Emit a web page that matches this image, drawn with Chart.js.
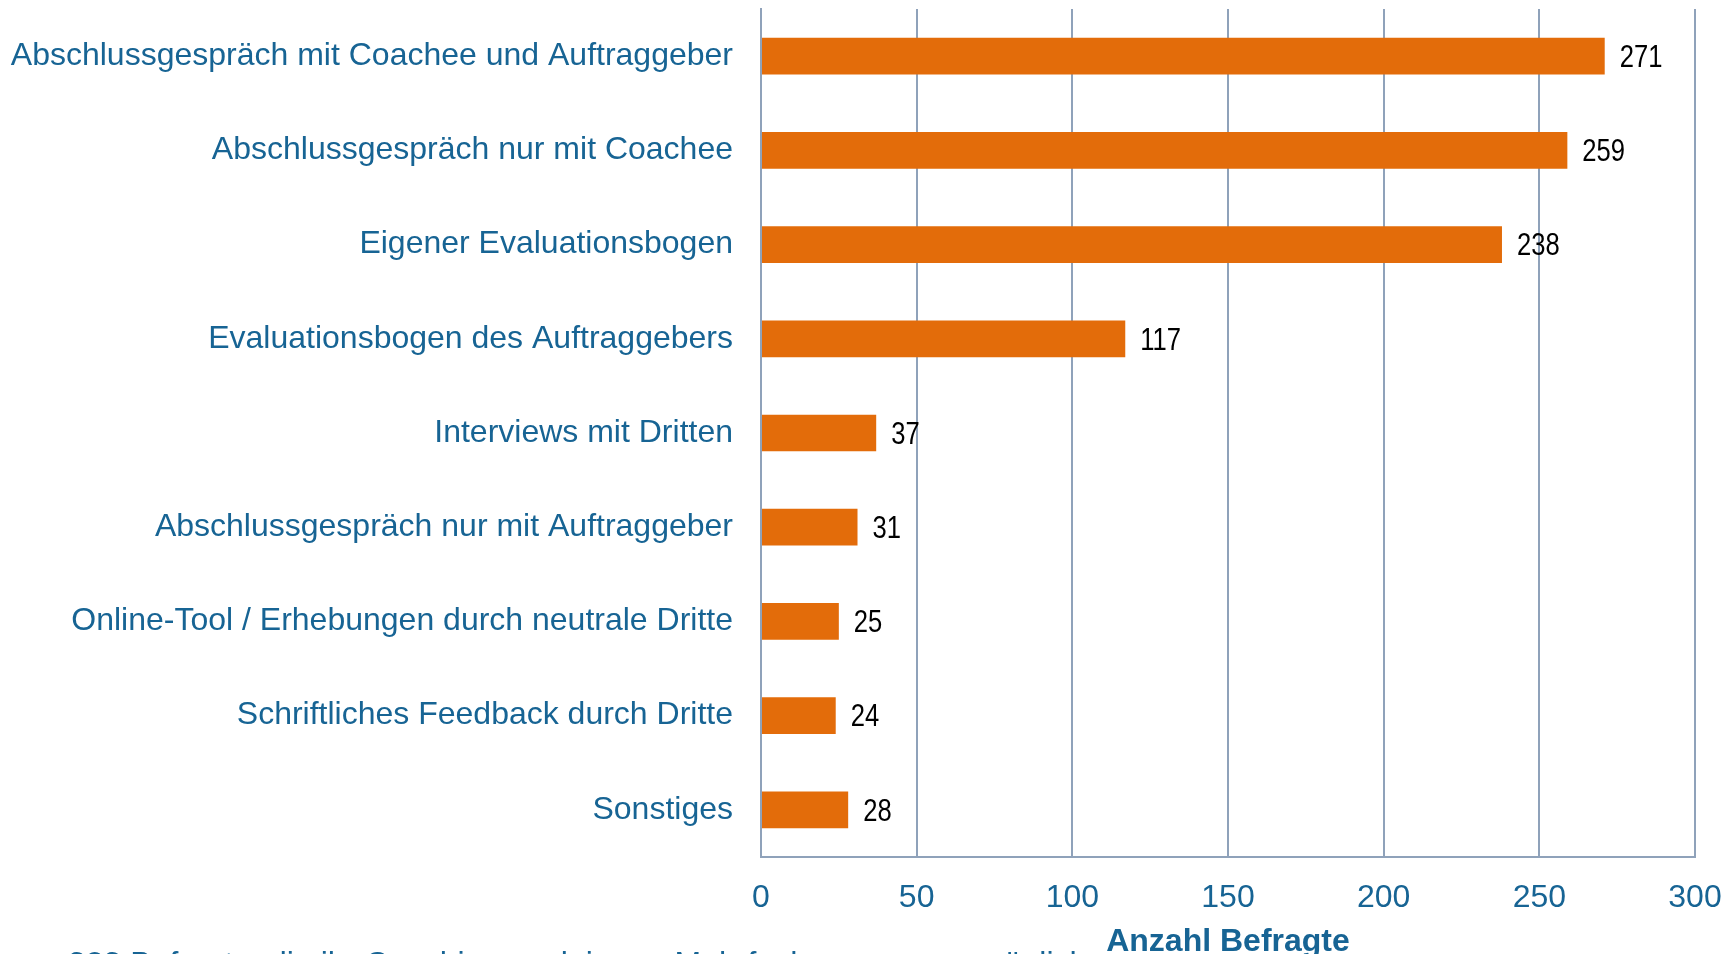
<!DOCTYPE html>
<html>
<head>
<meta charset="utf-8">
<script src="https://cdn.jsdelivr.net/npm/chart.js@4"></script>
<style>
  html, body { margin: 0; padding: 0; background: #ffffff; }
  #wrap { width: 1730px; height: 954px; position: relative; }
</style>
</head>
<body>
<div id="wrap"><canvas id="barChart" width="1730" height="954"></canvas></div>
<script>
const categories = [
  "Abschlussgespräch mit Coachee und Auftraggeber",
  "Abschlussgespräch nur mit Coachee",
  "Eigener Evaluationsbogen",
  "Evaluationsbogen des Auftraggebers",
  "Interviews mit Dritten",
  "Abschlussgespräch nur mit Auftraggeber",
  "Online-Tool / Erhebungen durch neutrale Dritte",
  "Schriftliches Feedback durch Dritte",
  "Sonstiges",
];
const counts = [271, 259, 238, 117, 37, 31, 25, 24, 28];
const xTicks = [0, 50, 100, 150, 200, 250, 300];
const axisTitle = "Anzahl Befragte";
const footnote = "323 Befragte, die ihr Coaching evaluieren; Mehrfachnennungen möglich";

const BLUE = "#176494";
const ORANGE = "#E36C0A";
const GRID = "#8FA2BA";
const FONT = '"Liberation Sans", Arial, sans-serif';

// numbers next to the bars, squeezed horizontally like a narrow font
const valueLabels = {
  id: "valueLabels",
  afterDatasetsDraw(chart) {
    const ctx = chart.ctx;
    const meta = chart.getDatasetMeta(0);
    meta.data.forEach((bar, i) => {
      ctx.save();
      ctx.translate(bar.x + 15, bar.y + 2);
      ctx.scale(0.8, 1);
      ctx.font = "32px " + FONT;
      ctx.fillStyle = "#000000";
      ctx.textAlign = "left";
      ctx.textBaseline = "middle";
      ctx.fillText(String(counts[i]), 0, 0);
      ctx.restore();
    });
  },
};

const footnoteText = {
  id: "footnoteText",
  afterDraw(chart) {
    const ctx = chart.ctx;
    ctx.save();
    ctx.font = "32px " + FONT;
    ctx.fillStyle = BLUE;
    ctx.textAlign = "left";
    ctx.textBaseline = "top";
    ctx.fillText(footnote, 68, 949);
    ctx.restore();
  },
};

new Chart(document.getElementById("barChart"), {
  type: "bar",
  data: {
    labels: categories,
    datasets: [
      {
        data: counts,
        backgroundColor: ORANGE,
        borderWidth: 0,
        barPercentage: 0.78,
        categoryPercentage: 0.5,
      },
    ],
  },
  options: {
    indexAxis: "y",
    responsive: false,
    animation: false,
    layout: { padding: { top: 9, right: 35, left: 0, bottom: 0 } },
    plugins: {
      legend: { display: false },
      tooltip: { enabled: false },
    },
    scales: {
      x: {
        min: 0,
        max: 300,
        afterBuildTicks(scale) {
          scale.ticks = xTicks.map((v) => ({ value: v }));
        },
        afterFit(scale) {
          scale.height = 97;
          scale.paddingLeft = 0;
          scale.paddingRight = 0;
        },
        grid: { color: GRID, lineWidth: 2, drawTicks: false },
        border: { color: GRID, width: 2 },
        ticks: {
          color: BLUE,
          padding: 22,
          font: { family: FONT, size: 32 },
        },
        title: {
          display: true,
          text: axisTitle,
          color: BLUE,
          padding: { top: 0, bottom: -4 },
          font: { family: FONT, size: 32, weight: "bold", lineHeight: 1 },
        },
      },
      y: {
        afterFit(scale) {
          scale.width = 761;
          scale.paddingTop = 0;
          scale.paddingBottom = 0;
        },
        grid: { display: false, drawTicks: false },
        border: { color: GRID, width: 2 },
        ticks: {
          color: BLUE,
          padding: 28,
          font: { family: FONT, size: 32 },
        },
      },
    },
  },
  plugins: [valueLabels, footnoteText],
});
</script>
</body>
</html>
